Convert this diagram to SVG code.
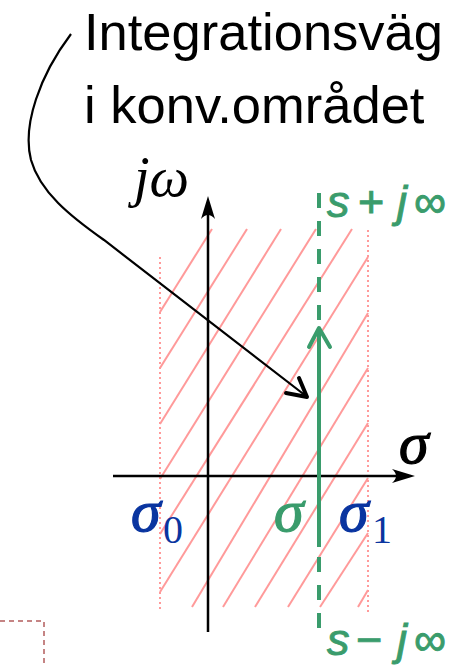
<svg xmlns="http://www.w3.org/2000/svg" width="459" height="665" viewBox="0 0 459 665">
<style>
.hatch{stroke:#ff9a9a;stroke-width:2;fill:none}
.bound{stroke:#ff9a9a;stroke-width:2;stroke-dasharray:2 3;fill:none}
.axis{stroke:#000;stroke-width:2.5;fill:none}
.ahead{fill:#000;stroke:none}
.grn{stroke:#3a9c6c;stroke-width:4;fill:none}
.title{font-family:"Liberation Sans",Arial,sans-serif;font-size:52.5px;fill:#000}
.sig{font-family:"Liberation Serif","Times New Roman",serif;font-style:italic;font-size:60px;stroke-width:1.2}
.sub{font-family:"Liberation Serif","Times New Roman",serif;font-size:40px;fill:#0a35a0}
.glab{font-family:"Liberation Sans",Arial,sans-serif;font-size:45px;fill:#3a9c6c;stroke:#3a9c6c;stroke-width:0.9}
</style>
<rect width="459" height="665" fill="#fff"/>
<g id="region">
<line class="bound" x1="160" y1="257" x2="160" y2="612"/>
<line class="bound" x1="368" y1="230" x2="368" y2="612"/>
<line class="hatch" x1="212" y1="229" x2="160" y2="312"/>
<line class="hatch" x1="247" y1="229" x2="160" y2="368"/>
<line class="hatch" x1="281" y1="229" x2="160" y2="424"/>
<line class="hatch" x1="316" y1="229" x2="160" y2="479"/>
<line class="hatch" x1="352" y1="229" x2="160" y2="534"/>
<line class="hatch" x1="368" y1="257" x2="160" y2="592"/>
<line class="hatch" x1="368" y1="313" x2="192" y2="607"/>
<line class="hatch" x1="368" y1="368" x2="223" y2="607"/>
<line class="hatch" x1="368" y1="423" x2="255" y2="607"/>
<line class="hatch" x1="368" y1="478" x2="288" y2="607"/>
<line class="hatch" x1="368" y1="533" x2="320" y2="607"/>
<line class="hatch" x1="368" y1="590" x2="358" y2="607"/>
</g>
<g id="axes">
<line class="axis" x1="113" y1="476" x2="400" y2="476"/>
<path class="ahead" d="M415,476 L392,469 Q400,476 392,483 Z"/>
<line class="axis" x1="208" y1="632" x2="208" y2="210"/>
<path class="ahead" d="M208,196 L201,219 Q208,211 215,219 Z"/>
</g>
<g id="connectors">
<path d="M71,34 C40,75 22,125 31,160 C40,192 70,216 104,240 L306,396" stroke="#000" stroke-width="2.2" fill="none"/>
<path d="M286,393 L307,397 L299,378" stroke="#000" stroke-width="4" fill="none" stroke-linecap="round" stroke-linejoin="round"/>
</g>
<g id="path">
<line class="grn" x1="319" y1="193" x2="319" y2="322" stroke-dasharray="15 13"/>
<line class="grn" x1="319" y1="330" x2="319" y2="547"/>
<path class="grn" d="M309,347 L319,328 L330,347" stroke-linecap="round" stroke-linejoin="round"/>
<line class="grn" x1="319" y1="557" x2="319" y2="628" stroke-dasharray="15 13"/>
</g>
<g id="title">
<text class="title" x="84" y="50">Integrationsväg</text>
<text class="title" x="84" y="123">i konv.området</text>
</g>
<g id="labels">
<text x="134" y="196" font-family="Liberation Serif,serif" font-style="italic" font-size="56" fill="#000">jω</text>
<text class="sig" x="399" y="463" fill="#000" stroke="#000">σ</text>
<text class="sig" x="131" y="531" fill="#0a35a0" stroke="#0a35a0">σ</text>
<text class="sub" x="163" y="543">0</text>
<text class="sig" x="339" y="531" fill="#0a35a0" stroke="#0a35a0">σ</text>
<text class="sub" x="372" y="543">1</text>
<text class="sig" x="274" y="531" fill="#3a9c6c" stroke="#3a9c6c">σ</text>
<text class="glab" y="217"><tspan x="327" font-style="italic">s</tspan><tspan x="358">+</tspan><tspan x="397" font-style="italic">j</tspan><tspan x="414">∞</tspan></text>
<text class="glab" y="655"><tspan x="327" font-style="italic">s</tspan><tspan x="356">−</tspan><tspan x="397" font-style="italic">j</tspan><tspan x="414">∞</tspan></text>
</g>
<g id="frame">
<path d="M0,621 L44,621 L44,665" stroke="#b35c5c" stroke-width="1.5" stroke-dasharray="5 4" fill="none"/>
</g>
</svg>
